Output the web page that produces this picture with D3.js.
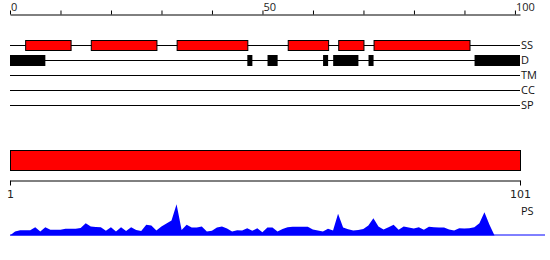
<!DOCTYPE html>
<html>
<head>
<meta charset="utf-8">
<script src="https://cdn.jsdelivr.net/npm/d3@7"></script>
<style>
  html, body { margin: 0; padding: 0; background: #fff; }
  svg { display: block; }
</style>
</head>
<body>
<svg id="chart" width="550" height="260"></svg>
<script>
// ---------- data ----------
const seqLength = 101;
const topTickValues = [0, 10, 20, 30, 40, 50, 60, 70, 80, 90, 100];
const topTickLabels = [0, 50, 100];
const trackNames = ["SS", "D", "TM", "CC", "SP"];
const ssStarts = [3, 16, 33, 55, 65, 72];
const ssEnds   = [12, 29, 47, 63, 70, 91];
const dStarts  = [0, 47, 51, 62, 64, 71, 92];
const dEnds    = [7, 48, 53, 63, 69, 72, 101];
const domainStart = [1];
const domainEnd = [101];
const bottomTickValues = [1, 101];
const psLabel = "PS";
const psValues = [
  0, 4, 5.3, 5.3, 5.3, 8.3, 4, 8.3, 5.7, 5.7,
  5.7, 6.7, 6.7, 6.7, 7.5, 12.3, 9, 8.5, 8.3, 4.7,
  8.3, 4, 8.3, 4.5, 8.3, 5.5, 4.5, 10.7, 10, 5,
  9, 12, 15, 31.3, 5.5, 10.7, 8, 8, 9, 4,
  4.7, 8, 9, 7, 4, 5.3, 5, 7.3, 4.7, 7.3,
  3.3, 8, 8, 4, 6.5, 8.3, 8.7, 8.7, 8.7, 8.7,
  6, 5, 4, 6.7, 5, 21.7, 8, 6.3, 5, 5.5,
  6.5, 10, 17.3, 9, 6, 8.3, 10.7, 5.7, 9, 8,
  7, 8.3, 5.7, 8.7, 8.3, 8, 8, 6, 5, 7.3,
  7, 7.3, 8.3, 12.3, 23.3, 10.7, 0, 0, 0, 0,
  0, 0, 0, 0, 0, 0, 0
];

// ---------- drawing ----------
const svg = d3.select("#chart");
const labelFont = "'Open Sans', 'Noto Sans', sans-serif";

const x = d3.scaleLinear().domain([0, seqLength]).range([10, 520]);
const yTrack = d3.scalePoint().domain(trackNames).range([45.5, 105.5]);

// top axis
const topAxis = d3.axisTop(x)
  .tickValues(topTickValues)
  .tickSize(4)
  .tickSizeOuter(0)
  .tickFormat(d => topTickLabels.includes(d) ? d : "");
const gTop = svg.append("g").attr("transform", "translate(0,14.5)").call(topAxis);
gTop.attr("font-family", labelFont).attr("font-size", 11);
gTop.selectAll(".domain").attr("stroke", "#000");
gTop.selectAll(".tick line").attr("stroke", "#000");
gTop.selectAll(".tick text")
  .attr("text-anchor", "start")
  .attr("x", 0.5)
  .attr("y", -3.5)
  .attr("dy", 0)
  .attr("fill", "#222");

// track lines
const gTracks = svg.append("g");
gTracks.selectAll("line").data(trackNames).join("line")
  .attr("x1", x(0)).attr("x2", x(seqLength))
  .attr("y1", d => yTrack(d)).attr("y2", d => yTrack(d))
  .attr("stroke", "#000").attr("stroke-width", 1);
gTracks.selectAll("text").data(trackNames).join("text")
  .attr("x", x(seqLength) + 1)
  .attr("y", d => yTrack(d))
  .attr("dy", "0.36em")
  .attr("font-family", labelFont)
  .attr("font-size", 11)
  .attr("fill", "#111")
  .text(d => d);

// SS boxes
const boxH = 10;
svg.append("g").selectAll("rect").data(ssStarts.map((s, i) => [s, ssEnds[i]])).join("rect")
  .attr("x", d => x(d[0]) + 0.5)
  .attr("width", d => x(d[1]) - x(d[0]))
  .attr("y", yTrack("SS") - boxH / 2)
  .attr("height", boxH)
  .attr("fill", "#ff0000")
  .attr("stroke", "#000")
  .attr("stroke-width", 1);

// D boxes
svg.append("g").selectAll("rect").data(dStarts.map((s, i) => [s, dEnds[i]])).join("rect")
  .attr("x", d => x(d[0]))
  .attr("width", d => x(d[1]) - x(d[0]))
  .attr("y", yTrack("D") - 5.5)
  .attr("height", 11)
  .attr("fill", "#000");

// big domain bar
const xb = d3.scaleLinear().domain([1, seqLength]).range([10, 520]);
svg.append("g").selectAll("rect").data(domainStart.map((s, i) => [s, domainEnd[i]])).join("rect")
  .attr("x", d => xb(d[0]) + 0.5)
  .attr("width", d => xb(d[1]) - xb(d[0]))
  .attr("y", 150.5)
  .attr("height", 20)
  .attr("fill", "#ff0000")
  .attr("stroke", "#000")
  .attr("stroke-width", 1);

// bottom axis
const bottomAxis = d3.axisBottom(xb)
  .tickValues(bottomTickValues)
  .tickSize(5)
  .tickSizeOuter(0);
const gBot = svg.append("g").attr("transform", "translate(0,180.5)").call(bottomAxis);
gBot.attr("font-family", "'DejaVu Sans', sans-serif").attr("font-size", 11);
gBot.selectAll(".domain").attr("stroke", "#000");
gBot.selectAll(".tick line").attr("stroke", "#000");
gBot.selectAll(".tick text").attr("y", 10).attr("dy", "0.71em").attr("fill", "#222");

// PS area
const xp = d3.scaleLinear().domain([0, psValues.length - 1]).range([10, 545]);
const yp = d3.scaleLinear().domain([0, 32]).range([235.5, 203.5]);
svg.append("path")
  .datum(psValues)
  .attr("d", d3.area().x((d, i) => xp(i)).y0(yp(0)).y1(d => yp(d)))
  .attr("fill", "#0000ff");
svg.append("line")
  .attr("x1", xp(0)).attr("x2", xp(psValues.length - 1))
  .attr("y1", yp(0) - 0.5).attr("y2", yp(0) - 0.5)
  .attr("stroke", "#0000ff").attr("stroke-width", 1);
svg.append("text")
  .attr("x", x(seqLength) + 1)
  .attr("y", 215)
  .attr("font-family", labelFont)
  .attr("font-size", 11)
  .attr("fill", "#111")
  .text(psLabel);
</script>
</body>
</html>
